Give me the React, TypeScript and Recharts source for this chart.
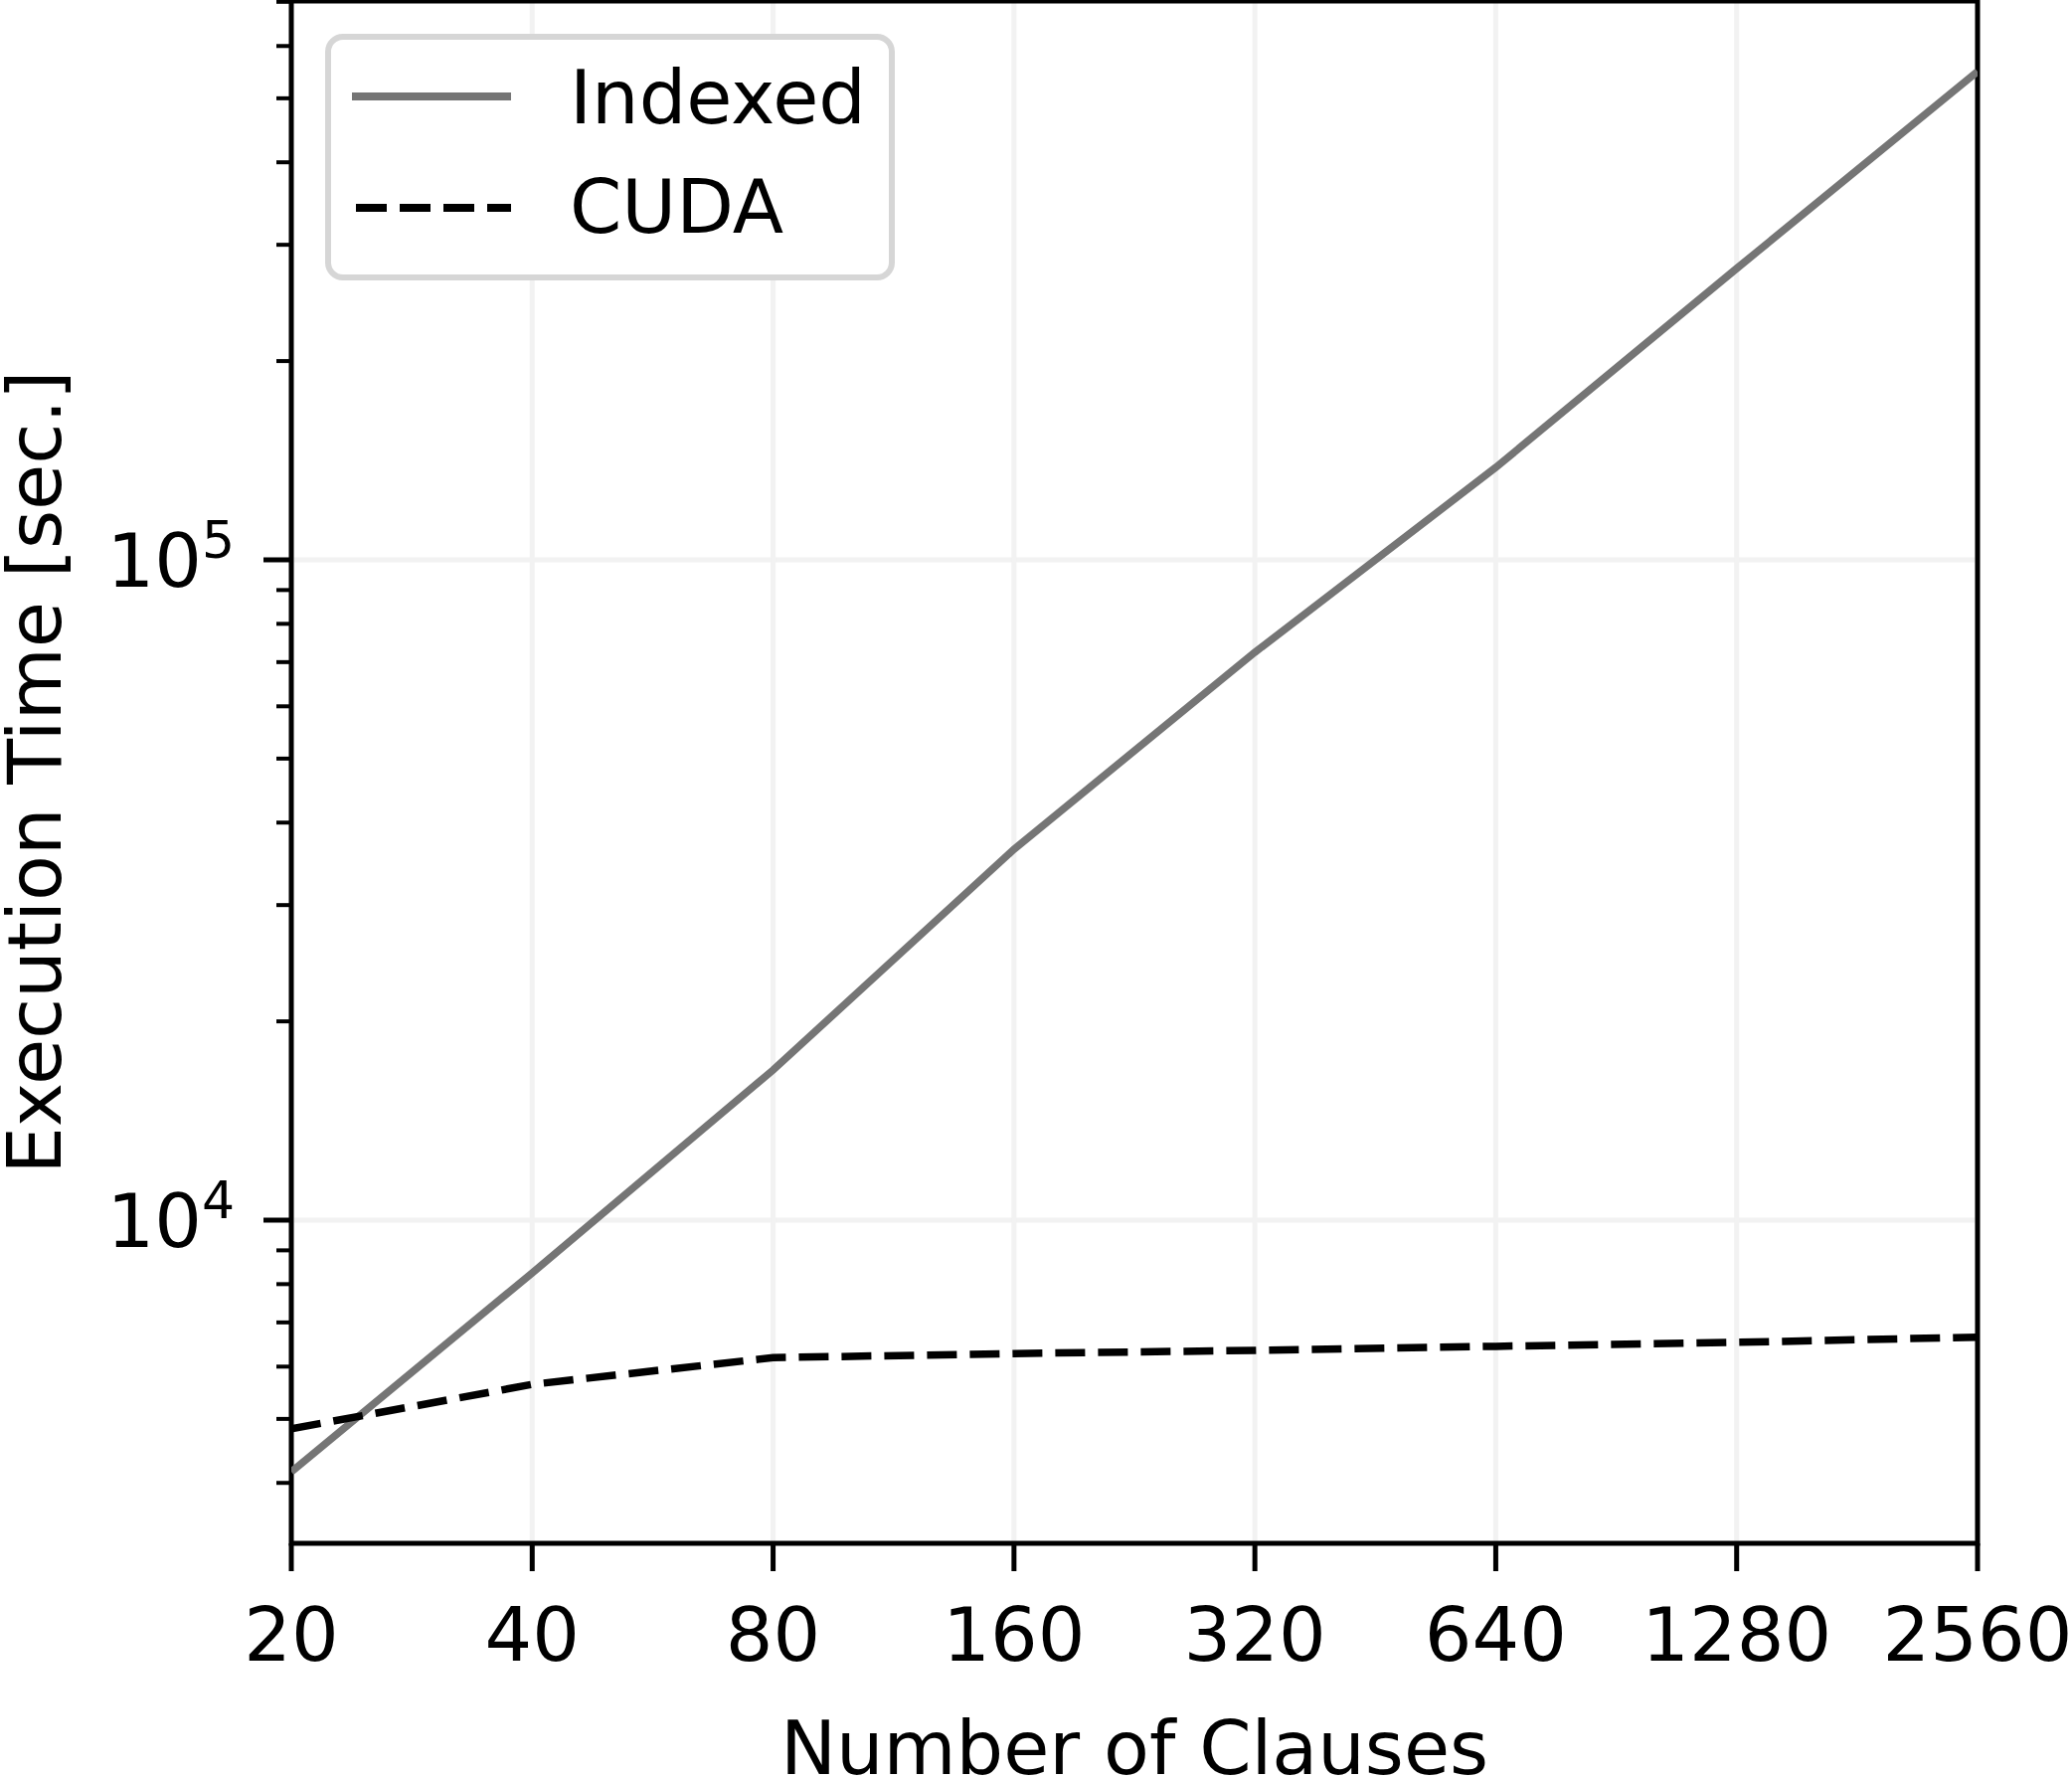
import React from "react";
import {
  LineChart,
  Line,
  XAxis,
  YAxis,
  CartesianGrid,
  ReferenceArea,
  Legend,
} from "recharts";

// values (log-log plot)
const clauses = [20, 40, 80, 160, 320, 640, 1280, 2560];
const indexedTime = [4159, 8318, 16880, 36450, 72440, 138000, 276200, 549000];
const cudaTime = [4830, 5640, 6190, 6280, 6350, 6440, 6530, 6650];

const yMajorTicks = [10000, 100000];
const yMinorTicks = [
  4000, 5000, 6000, 7000, 8000, 9000,
  20000, 30000, 40000, 50000, 60000, 70000, 80000, 90000,
  200000, 300000, 400000, 500000, 600000, 700000,
];
const yDomain = [3240, 702000];

const seriesNames = ["Indexed", "CUDA"];

const data = clauses.map((c, i) => ({
  clauses: c,
  indexed: indexedTime[i],
  cuda: cudaTime[i],
}));

const FONT = "DejaVu Sans";
const W = 2084;
const H = 1789;

function XTick({ x, y, payload }: any) {
  return (
    <g>
      <line x1={x} x2={x} y1={y} y2={y + 28} stroke="#000" strokeWidth={5} />
      <text x={x} y={y + 118} textAnchor="middle" fontSize={75} fontFamily={FONT} fill="#000">
        {payload.value}
      </text>
    </g>
  );
}

function YTick({ x, y, payload }: any) {
  const v = payload.value;
  const major = yMajorTicks.includes(v);
  if (!major) {
    return <line x1={x - 15} x2={x} y1={y} y2={y} stroke="#000" strokeWidth={4} />;
  }
  const exp = Math.round(Math.log10(v));
  return (
    <g>
      <line x1={x - 28} x2={x} y1={y} y2={y} stroke="#000" strokeWidth={5} />
      <text x={x - 57} y={y + 27} textAnchor="end" fontSize={75} fontFamily={FONT} fill="#000">
        10
        <tspan dy={-29} fontSize={52}>
          {exp}
        </tspan>
      </text>
    </g>
  );
}

function LegendBox() {
  return (
    <svg width={575} height={248} style={{ display: "block", overflow: "visible" }}>
      <rect x={3} y={3} width={567} height={242} rx={15} ry={15} fill="#fff" stroke="#d6d6d6" strokeWidth={6} />
      <line x1={27} x2={187} y1={63} y2={63} stroke="#757575" strokeWidth={8} />
      <text x={246} y={90} fontSize={75} fontFamily={FONT} fill="#000">
        {seriesNames[0]}
      </text>
      <line x1={31} x2={187} y1={175} y2={175} stroke="#000" strokeWidth={8} strokeDasharray="31 13" />
      <text x={246} y={200} fontSize={75} fontFamily={FONT} fill="#000">
        {seriesNames[1]}
      </text>
    </svg>
  );
}

export default function App() {
  return (
    <div style={{ position: "absolute", left: 0, top: 0, width: W, height: H, background: "#fff" }}>
      <LineChart
        width={W}
        height={H}
        data={data}
        margin={{ top: 1, right: 95, bottom: 0, left: 0 }}
      >
        <CartesianGrid
          stroke="#f2f2f2"
          strokeWidth={5}
          horizontalValues={yMajorTicks}
          verticalValues={clauses}
        />
        <XAxis
          dataKey="clauses"
          type="number"
          scale="log"
          domain={[20, 2560]}
          ticks={clauses}
          interval={0}
          allowDataOverflow
          height={237}
          tickSize={0}
          tickMargin={0}
          tickLine={false}
          axisLine={false}
          tick={<XTick />}
          label={{
            value: "Number of Clauses",
            position: "insideBottom",
            offset: 5,
            fontSize: 75,
            fontFamily: FONT,
            fill: "#000",
          }}
        />
        <YAxis
          type="number"
          scale="log"
          domain={yDomain}
          ticks={[...yMinorTicks, ...yMajorTicks].sort((a, b) => a - b)}
          interval={0}
          allowDataOverflow
          width={293}
          tickSize={0}
          tickMargin={0}
          tickLine={false}
          axisLine={false}
          tick={<YTick />}
          label={{
            value: "Execution Time [sec.]",
            angle: -90,
            position: "insideLeft",
            offset: 0,
            dx: 34,
            fontSize: 75,
            fontFamily: FONT,
            fill: "#000",
            style: { textAnchor: "middle" },
          }}
        />
        <Line
          type="linear"
          dataKey="indexed"
          name={seriesNames[0]}
          stroke="#757575"
          strokeWidth={7.5}
          dot={false}
          isAnimationActive={false}
        />
        <Line
          type="linear"
          dataKey="cuda"
          name={seriesNames[1]}
          stroke="#000"
          strokeWidth={7.5}
          strokeDasharray="30 13"
          dot={false}
          isAnimationActive={false}
        />
        <ReferenceArea
          x1={20}
          x2={2560}
          y1={yDomain[0]}
          y2={yDomain[1]}
          fill="none"
          fillOpacity={0}
          stroke="#000"
          strokeWidth={5}
          strokeOpacity={1}
        />
        <Legend
          layout="vertical"
          align="center"
          verticalAlign="middle"
          content={() => <LegendBox />}
          wrapperStyle={{ left: 327, top: 34, width: 575, height: 248 }}
        />
      </LineChart>
    </div>
  );
}
